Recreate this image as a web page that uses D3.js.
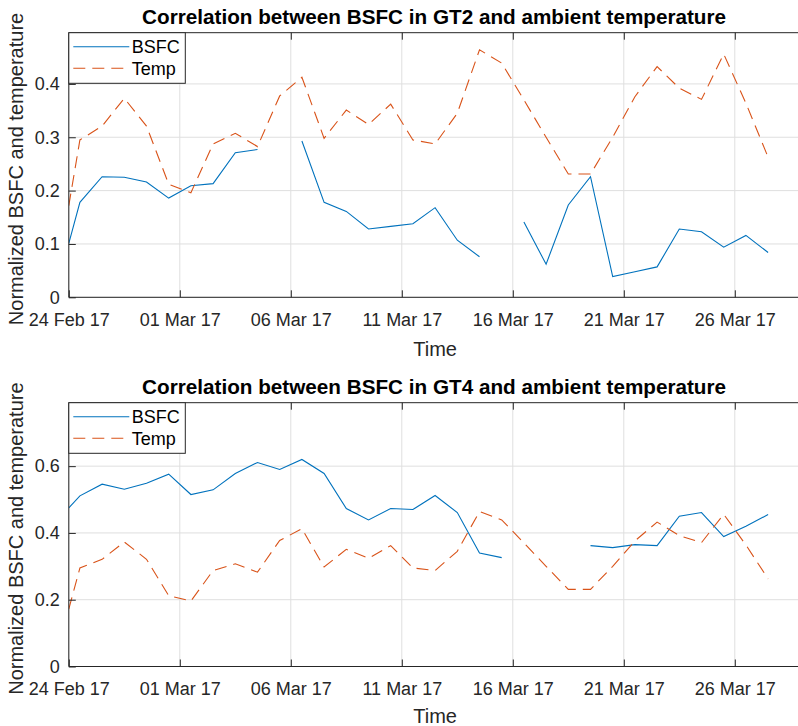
<!DOCTYPE html>
<html>
<head>
<meta charset="utf-8">
<script src="https://cdn.jsdelivr.net/npm/d3@7"></script>
<style>
  html, body { margin: 0; padding: 0; background: #fff; }
  svg { display: block; font-family: "Liberation Sans", Arial, Helvetica, sans-serif; }
</style>
</head>
<body>
<div id="chart"></div>
<script>
// sample times: first reading at midnight, then one per day at noon
const times = [
  "2017-02-24T00:00", "2017-02-24T12:00", "2017-02-25T12:00", "2017-02-26T12:00",
  "2017-02-27T12:00", "2017-02-28T12:00", "2017-03-01T12:00", "2017-03-02T12:00",
  "2017-03-03T12:00", "2017-03-04T12:00", "2017-03-05T12:00", "2017-03-06T12:00",
  "2017-03-07T12:00", "2017-03-08T12:00", "2017-03-09T12:00", "2017-03-10T12:00",
  "2017-03-11T12:00", "2017-03-12T12:00", "2017-03-13T12:00", "2017-03-14T12:00",
  "2017-03-15T12:00", "2017-03-16T12:00", "2017-03-17T12:00", "2017-03-18T12:00",
  "2017-03-19T12:00", "2017-03-20T12:00", "2017-03-21T12:00", "2017-03-22T12:00",
  "2017-03-23T12:00", "2017-03-24T12:00", "2017-03-25T12:00", "2017-03-26T12:00",
  "2017-03-27T12:00"
];

const bsfcGT2 = [
  0.101, 0.178, 0.226, 0.225, 0.216, 0.186, 0.209, 0.213, 0.271, 0.277, null,
  0.293, 0.178, 0.161, 0.128, 0.133, 0.138, 0.168, 0.107, 0.076, null,
  0.141, 0.062, 0.173, 0.226, 0.039, 0.048, 0.057, 0.128, 0.123, 0.094, 0.116, 0.084
];

const bsfcGT4 = [
  0.475, 0.511, 0.546, 0.531, 0.549, 0.576, 0.515, 0.529, 0.578, 0.611, 0.590,
  0.620, 0.578, 0.473, 0.439, 0.473, 0.470, 0.512, 0.461, 0.340, 0.326,
  null, null, null, 0.362, 0.356, 0.365, 0.362, 0.450, 0.461, 0.389, 0.420, 0.455
];

const temp = [
  0.172, 0.295, 0.321, 0.373, 0.321, 0.212, 0.196, 0.2875, 0.3075, 0.2825, 0.3775,
  0.4125, 0.298, 0.351, 0.324, 0.362, 0.295, 0.2875, 0.345, 0.464, 0.439,
  0.370, 0.300, 0.231, 0.231, 0.300, 0.376, 0.4325, 0.392, 0.371, 0.456, 0.364, 0.2625
];

const xTickDates = ["2017-02-24", "2017-03-01", "2017-03-06", "2017-03-11", "2017-03-16", "2017-03-21", "2017-03-26"];
const xLimits = ["2017-02-24", "2017-03-29"];

const yTicksGT2 = [0, 0.1, 0.2, 0.3, 0.4];
const yTicksGT4 = [0, 0.2, 0.4, 0.6];

const seriesNames = ["BSFC", "Temp"];

const W = 798, H = 726;
const left = 68.8, right = 801.4;
const blue = '#0072BD', orange = '#D95319', axisColor = '#262626', gridColor = '#dfdfdf';

const parseTime = d3.timeParse('%Y-%m-%dT%H:%M');
const parseDay = d3.timeParse('%Y-%m-%d');
const fmt = d3.timeFormat('%d %b %y');

const svg = d3.select('#chart').append('svg')
  .attr('width', W)
  .attr('height', H)
  .attr('viewBox', `0 0 ${W} ${H}`);

const x = d3.scaleTime()
  .domain(xLimits.map(parseDay))
  .range([left, right]);

function drawPanel(cfg) {
  const { top, bottom, yMax, yTicks, bsfc, title, id } = cfg;
  const y = d3.scaleLinear().domain([0, yMax]).range([bottom, top]);
  const g = svg.append('g');

  g.append('clipPath').attr('id', id)
    .append('rect')
    .attr('x', left).attr('y', top)
    .attr('width', right - left).attr('height', bottom - top);

  // grid
  const tickDates = xTickDates.map(parseDay);
  g.append('g').selectAll('line')
    .data(tickDates)
    .join('line')
    .attr('x1', d => x(d)).attr('x2', d => x(d))
    .attr('y1', top).attr('y2', bottom)
    .attr('stroke', gridColor).attr('stroke-width', 1);
  g.append('g').selectAll('line')
    .data(yTicks)
    .join('line')
    .attr('x1', left).attr('x2', right)
    .attr('y1', d => y(d)).attr('y2', d => y(d))
    .attr('stroke', gridColor).attr('stroke-width', 1);

  // series
  const data = times.map((t, i) => ({ t: parseTime(t), b: bsfc[i], temp: temp[i] }));
  const lineB = d3.line().defined(d => d.b != null).x(d => x(d.t)).y(d => y(d.b));
  const lineT = d3.line().defined(d => d.temp != null).x(d => x(d.t)).y(d => y(d.temp));

  const plot = g.append('g').attr('clip-path', `url(#${id})`);
  plot.append('path').datum(data)
    .attr('d', lineB)
    .attr('fill', 'none').attr('stroke', blue).attr('stroke-width', 1.1);
  plot.append('path').datum(data)
    .attr('d', lineT)
    .attr('fill', 'none').attr('stroke', orange).attr('stroke-width', 1.1)
    .attr('stroke-dasharray', '12,7');

  // axes
  const xAxis = d3.axisBottom(x)
    .tickValues(tickDates)
    .tickFormat(fmt)
    .tickSizeInner(-7).tickSizeOuter(0).tickPadding(16);
  const xa = g.append('g').attr('transform', `translate(0,${bottom})`).call(xAxis);
  xa.select('.domain').remove();
  xa.selectAll('line').attr('stroke', axisColor);
  xa.selectAll('text').attr('font-size', 18).attr('fill', axisColor).attr('font-family', null);

  const xTop = d3.axisTop(x).tickValues(tickDates).tickFormat('').tickSizeInner(-7).tickSizeOuter(0);
  const xt = g.append('g').attr('transform', `translate(0,${top})`).call(xTop);
  xt.select('.domain').remove();
  xt.selectAll('line').attr('stroke', axisColor);

  const yAxis = d3.axisLeft(y)
    .tickValues(yTicks)
    .tickFormat(d3.format('~g'))
    .tickSizeInner(-7).tickSizeOuter(0).tickPadding(9);
  const ya = g.append('g').attr('transform', `translate(${left},0)`).call(yAxis);
  ya.select('.domain').remove();
  ya.selectAll('line').attr('stroke', axisColor);
  ya.selectAll('text').attr('font-size', 18).attr('fill', axisColor).attr('font-family', null);

  // box
  g.append('path')
    .attr('d', `M${right},${top}H${left}V${bottom}H${right}`)
    .attr('fill', 'none').attr('stroke', axisColor).attr('stroke-width', 1);

  // labels
  g.append('text')
    .attr('x', (left + right) / 2 - 1).attr('y', top - 9)
    .attr('text-anchor', 'middle')
    .attr('font-size', 20.7).attr('font-weight', 'bold').attr('fill', '#000')
    .text(title);
  g.append('text')
    .attr('x', (left + right) / 2).attr('y', Math.min(bottom + 58.5, H - 3))
    .attr('text-anchor', 'middle')
    .attr('font-size', 20).attr('fill', axisColor)
    .text('Time');
  g.append('text')
    .attr('transform', `translate(23,${(top + bottom) / 2 + 4}) rotate(-90)`)
    .attr('text-anchor', 'middle')
    .attr('font-size', 20).attr('fill', axisColor)
    .text('Normalized BSFC and temperature');

  // legend
  const lg = g.append('g').attr('transform', `translate(${left},${top})`);
  lg.append('rect')
    .attr('width', 116.5).attr('height', 50.6)
    .attr('fill', '#fff').attr('stroke', axisColor).attr('stroke-width', 1);
  seriesNames.forEach((name, i) => {
    const cy = 14 + i * 21.6;
    lg.append('line')
      .attr('x1', 4.5).attr('x2', 60.5).attr('y1', cy).attr('y2', cy)
      .attr('stroke', i === 0 ? blue : orange).attr('stroke-width', 1.1)
      .attr('stroke-dasharray', i === 0 ? null : '12,7');
    lg.append('text')
      .attr('x', 63).attr('y', cy).attr('dy', '0.35em')
      .attr('font-size', 18).attr('fill', '#000')
      .text(name);
  });
}

drawPanel({ id: 'clipTop', top: 32.7, bottom: 297.3, yMax: 0.496, yTicks: yTicksGT2, bsfc: bsfcGT2,
  title: 'Correlation between BSFC in GT2 and ambient temperature' });
drawPanel({ id: 'clipBottom', top: 402.7, bottom: 666.5, yMax: 0.79, yTicks: yTicksGT4, bsfc: bsfcGT4,
  title: 'Correlation between BSFC in GT4 and ambient temperature' });
</script>
</body>
</html>
